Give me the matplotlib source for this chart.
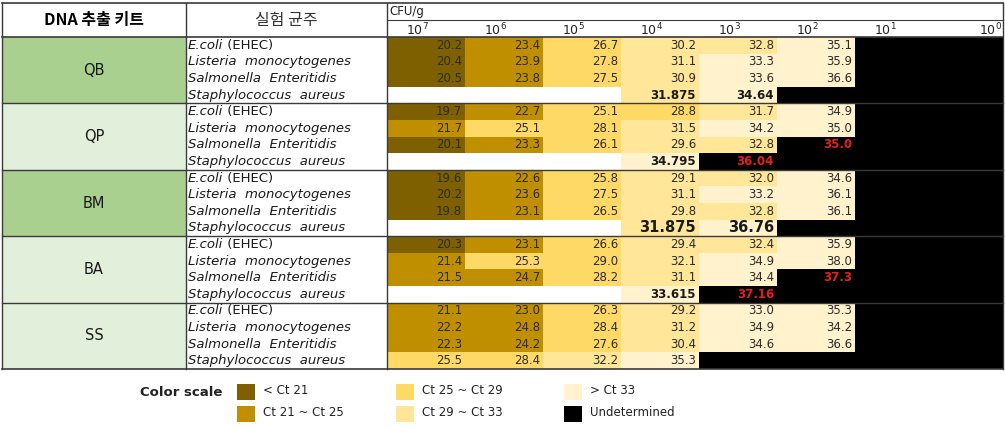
import numpy as np
import matplotlib
matplotlib.use('Agg')
import matplotlib.pyplot as plt
from matplotlib.patches import Rectangle

plt.rcParams['font.family'] = ['DejaVu Sans', 'Noto Sans CJK KR']

# Datos de la tabla (valores Ct)
# None = sin dato (celda blanca), 'U' = Undetermined (celda negra)
U = 'U'
kits = ['QB', 'QP', 'BM', 'BA', 'SS']
kit_green = [True, False, True, False, False]
strains = ['E.coli', 'Listeria  monocytogenes', 'Salmonella  Enteritidis', 'Staphylococcus  aureus']
dilutions = ['7', '6', '5', '4', '3', '2', '1', '0']

ct_qb = [[20.2, 23.4, 26.7, 30.2, 32.8, 35.1, U, U],
         [20.4, 23.9, 27.8, 31.1, 33.3, 35.9, U, U],
         [20.5, 23.8, 27.5, 30.9, 33.6, 36.6, U, U],
         [None, None, None, 31.875, 34.64, U, U, U]]
ct_qp = [[19.7, 22.7, 25.1, 28.8, 31.7, 34.9, U, U],
         [21.7, 25.1, 28.1, 31.5, 34.2, 35.0, U, U],
         [20.1, 23.3, 26.1, 29.6, 32.8, 35.0, U, U],
         [None, None, None, 34.795, 36.04, U, U, U]]
ct_bm = [[19.6, 22.6, 25.8, 29.1, 32.0, 34.6, U, U],
         [20.2, 23.6, 27.5, 31.1, 33.2, 36.1, U, U],
         [19.8, 23.1, 26.5, 29.8, 32.8, 36.1, U, U],
         [None, None, None, 31.875, 36.76, U, U, U]]
ct_ba = [[20.3, 23.1, 26.6, 29.4, 32.4, 35.9, U, U],
         [21.4, 25.3, 29.0, 32.1, 34.9, 38.0, U, U],
         [21.5, 24.7, 28.2, 31.1, 34.4, 37.3, U, U],
         [None, None, None, 33.615, 37.16, U, U, U]]
ct_ss = [[21.1, 23.0, 26.3, 29.2, 33.0, 35.3, U, U],
         [22.2, 24.8, 28.4, 31.2, 34.9, 34.2, U, U],
         [22.3, 24.2, 27.6, 30.4, 34.6, 36.6, U, U],
         [25.5, 28.4, 32.2, 35.3, U, U, U, U]]
ct_all = [ct_qb, ct_qp, ct_bm, ct_ba, ct_ss]

# celdas con valor en rojo sobre negro (kit, cepa, columna)
red_cells = [(1, 2, 5), (1, 3, 4), (3, 2, 5), (3, 3, 4)]

legend_labels = ['< Ct 21', 'Ct 21 ~ Ct 25', 'Ct 25 ~ Ct 29', 'Ct 29 ~ Ct 33', '> Ct 33', 'Undetermined']
scale_colors = ['#7F6000', '#BF8F00', '#FFD966', '#FFE699', '#FFF2CC', '#000000']

def ct_color(v):
    if v < 21:
        return scale_colors[0]
    if v < 25:
        return scale_colors[1]
    if v <= 29:
        return scale_colors[2]
    if v < 33:
        return scale_colors[3]
    return scale_colors[4]

def fmt(v):
    s = f'{v:.3f}'.rstrip('0')
    if s.endswith('.'):
        s += '0'
    return s

# Layout (pixeles)
W, H = 1005, 429
x_kit, x_strain, x_data, x_right = 2, 186, 387, 1003
col_w = 78
y_top, y_cfu, y_head = 3, 20, 37
row_h = 16.6

fig = plt.figure(figsize=(W / 100, H / 100), dpi=100)
ax = fig.add_axes([0, 0, 1, 1])
ax.set_xlim(0, W)
ax.set_ylim(H, 0)
ax.axis('off')

col_edges = np.minimum(x_data + col_w * np.arange(9), x_right)
line_c = '#3a3a3a'
txt_c = '#2b2b2b'

# celdas de datos
for k, kit_vals in enumerate(ct_all):
    for s, row in enumerate(kit_vals):
        r = k * 4 + s
        y0 = y_head + r * row_h
        for c, v in enumerate(row):
            x0, x1 = col_edges[c], col_edges[c + 1]
            red = (k, s, c) in red_cells
            if v is None:
                fc = 'white'
            elif v == U or red:
                fc = 'black'
            else:
                fc = ct_color(v)
            ax.add_patch(Rectangle((x0, y0), x1 - x0, row_h, fc=fc, ec='none'))
            if v is None or v == U:
                continue
            if red:
                ax.text(x1 - 3, y0 + row_h / 2, fmt(v), ha='right', va='center',
                        fontsize=8.5, fontweight='bold', color='#E3211C')
            elif s == 3 and k < 4:
                fs = 10.5 if kits[k] == 'BM' else 8.5
                ax.text(x1 - 3, y0 + row_h / 2, fmt(v), ha='right', va='center',
                        fontsize=fs, fontweight='bold', color='#1a1a1a')
            else:
                ax.text(x1 - 3, y0 + row_h / 2, fmt(v), ha='right', va='center',
                        fontsize=8.5, color=txt_c)

# columna de kits y cepas
for k, kit in enumerate(kits):
    y0 = y_head + k * 4 * row_h
    ax.add_patch(Rectangle((x_kit, y0), x_strain - x_kit, 4 * row_h,
                           fc='#A9D08E' if kit_green[k] else '#E2EFDA', ec='none'))
    ax.text((x_kit + x_strain) / 2, y0 + 2 * row_h, kit, ha='center', va='center',
            fontsize=10.5, color='#1a1a1a')
    for s, name in enumerate(strains):
        yc = y0 + (s + 0.5) * row_h
        t = ax.text(x_strain + 2, yc, name, ha='left', va='center', fontsize=9.5,
                    style='italic', color='#1a1a1a')
        if s == 0:
            ax.annotate(' (EHEC)', xy=(1, 0), xycoords=t, ha='left', va='bottom',
                        fontsize=9.5, color='#1a1a1a')

# encabezados
ax.text((x_kit + x_strain) / 2, (y_top + y_head) / 2, 'DNA 추출 키트', ha='center', va='center',
        fontsize=11.5, fontweight='bold', family=['Noto Sans CJK KR', 'DejaVu Sans'])
ax.text((x_strain + x_data) / 2, (y_top + y_head) / 2, '실험 균주', ha='center', va='center',
        fontsize=11.5, color='#333333', family=['Noto Sans CJK KR', 'DejaVu Sans'])
ax.text(x_data + 2, (y_top + y_cfu) / 2, 'CFU/g', ha='left', va='center', fontsize=8.5, color='#222222')
for c, d in enumerate(dilutions):
    xr = col_edges[c + 1] - 36 if c < 7 else col_edges[c + 1] - 1
    ax.text(xr, (y_cfu + y_head) / 2 + 1, f'$10^{{{d}}}$', ha='right', va='center',
            fontsize=9, color='#222222')

# lineas de la tabla
y_bottom = y_head + 20 * row_h
ax.plot([x_kit, x_right], [y_top, y_top], color=line_c, lw=1.2)
ax.plot([x_data, x_right], [y_cfu, y_cfu], color=line_c, lw=0.8)
ax.plot([x_kit, x_right], [y_head, y_head], color=line_c, lw=1.2)
for k in range(1, 5):
    yk = y_head + k * 4 * row_h
    ax.plot([x_kit, x_right], [yk, yk], color=line_c, lw=1.0)
ax.plot([x_kit, x_right], [y_bottom, y_bottom], color=line_c, lw=1.2)
for xv in [x_kit, x_strain, x_data, x_right]:
    ax.plot([xv, xv], [y_top, y_bottom], color=line_c, lw=1.0)

# leyenda
ax.text(140, 393, 'Color scale', ha='left', va='center', fontsize=9.5, fontweight='bold', color='#222222')
leg_x = [237, 396, 564]
leg_y = [392, 414]
for i, lab in enumerate(legend_labels):
    lx, ly = leg_x[i // 2], leg_y[i % 2]
    ax.add_patch(Rectangle((lx, ly - 8), 18, 16, fc=scale_colors[i], ec='none'))
    ax.text(lx + 26, ly - 1, lab, ha='left', va='center', fontsize=8.5, color='#222222')

fig.savefig('out.png', dpi=100)
